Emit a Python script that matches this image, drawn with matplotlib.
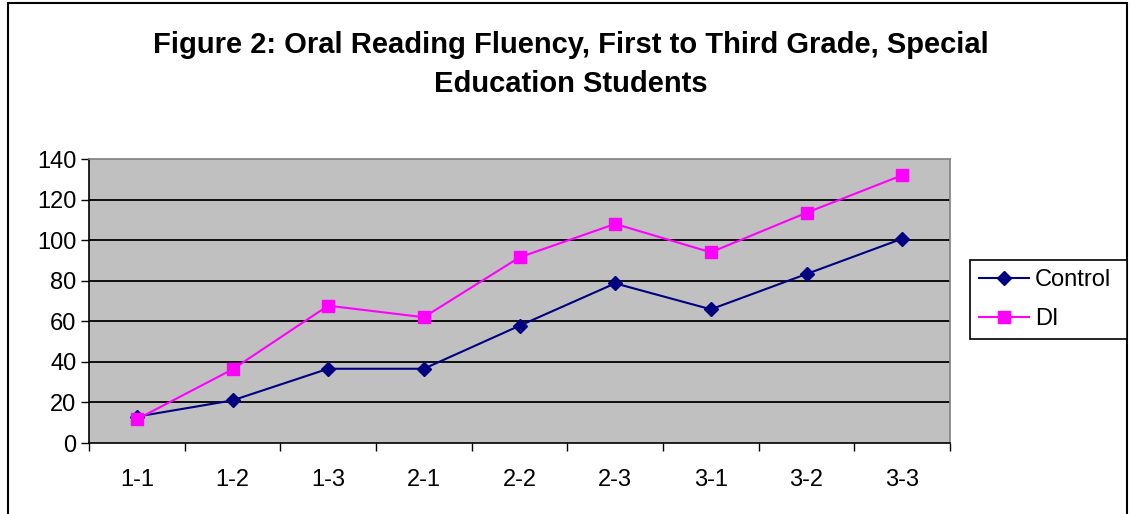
import matplotlib

matplotlib.use("Agg")
import matplotlib.pyplot as plt  # noqa: E402
import numpy as np  # noqa: E402
from matplotlib.patches import Rectangle  # noqa: E402

plt.rcParams["font.family"] = ["Liberation Sans", "DejaVu Sans"]

# ---- data ------------------------------------------------------------
periods = ["1-1", "1-2", "1-3", "2-1", "2-2", "2-3", "3-1", "3-2", "3-3"]
control = [13, 21, 36.6, 36.6, 57.8, 78.7, 65.9, 83.3, 100.7]
di = [11.7, 36.3, 67.7, 62, 91.5, 108, 94, 113.5, 132]
y_ticks = [0, 20, 40, 60, 80, 100, 120, 140]

fig = plt.figure(figsize=(11.3, 5.14), dpi=100)
fig.patch.set_facecolor("white")

# outer chart frame
fig.patches.append(Rectangle((8 / 1130, -0.01), 1119 / 1130, 1 - 3 / 514 + 0.01,
                             transform=fig.transFigure, fill=False,
                             edgecolor="black", linewidth=1.5))

ax = fig.add_axes([89 / 1130, 1 - 443 / 514, 861 / 1130, 284 / 514])
ax.set_facecolor("#C0C0C0")

x = np.arange(len(periods))
ax.plot(x, control, color="#000080", lw=1.5, marker="D", markersize=7.5,
        label="Control", zorder=3)
ax.plot(x, di, color="#FF00FF", lw=1.5, marker="s", markersize=8.5,
        label="DI", zorder=3)

ax.set_xlim(-0.5, len(periods) - 0.5)
ax.set_ylim(0, 140)
ax.set_yticks(y_ticks)
ax.set_xticks(x)
ax.set_xticklabels(periods)
ax.set_xticks(np.arange(-0.5, len(periods)), minor=True)
ax.tick_params(axis="x", which="major", length=0, pad=19, labelsize=17)
ax.tick_params(axis="x", which="minor", length=6, width=1, direction="out")
ax.tick_params(axis="y", length=6, width=1, direction="out", labelsize=17, pad=3)

for v in y_ticks[1:-1]:
    ax.axhline(v, color="black", lw=1.3, zorder=1)

for side in ("top", "right"):
    ax.spines[side].set_color("#808080")
    ax.spines[side].set_linewidth(1.2)
for side in ("left", "bottom"):
    ax.spines[side].set_color("black")
    ax.spines[side].set_linewidth(1.2)

fig.text(0.505, 1 - 45 / 514,
         "Figure 2: Oral Reading Fluency, First to Third Grade, Special",
         ha="center", va="center", fontsize=21, fontweight="bold")
fig.text(0.505, 1 - 84 / 514, "Education Students",
         ha="center", va="center", fontsize=21, fontweight="bold")

leg = fig.legend(loc="upper left",
                 bbox_to_anchor=(970 / 1130, 1 - 260 / 514, 157 / 1130, 0),
                 mode="expand", fontsize=17, frameon=True, fancybox=False,
                 framealpha=1, edgecolor="black", handlelength=2.1,
                 borderpad=0.4, labelspacing=0.7, handletextpad=0.25,
                 borderaxespad=0)
leg.get_frame().set_linewidth(1.2)

fig.savefig("out.png", dpi=100, facecolor="white")
